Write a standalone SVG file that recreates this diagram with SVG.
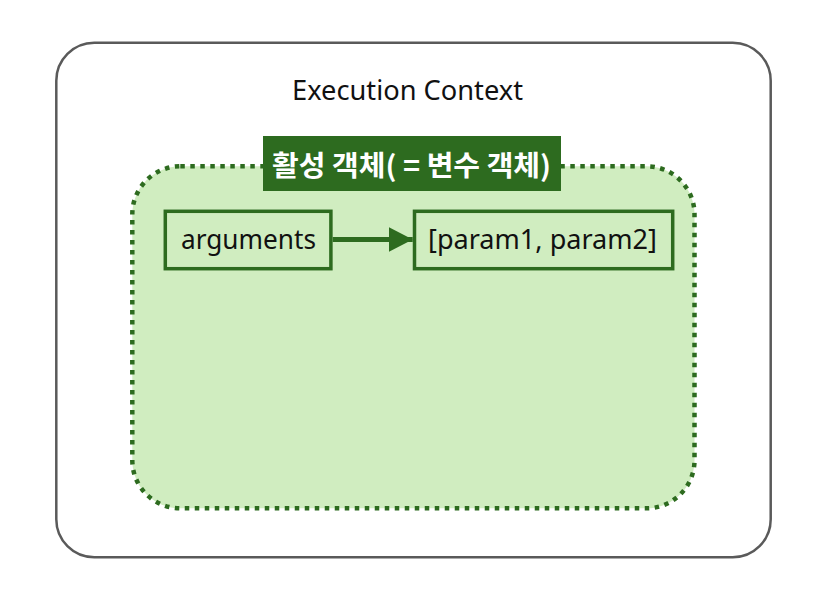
<svg xmlns="http://www.w3.org/2000/svg" width="828" height="590" viewBox="0 0 828 590">
<style>
.lbl{font-family:"Noto Sans","Open Sans","Liberation Sans",sans-serif;fill:#111;}
.box{fill:#d0edc0;stroke:#2d6b1f;stroke-width:3.5;}
.ko{font-family:"Noto Sans CJK KR","Noto Sans",sans-serif;font-weight:bold;fill:#fff;}
</style>
<defs>
<marker id="ah" markerWidth="24" markerHeight="25" refX="24" refY="12.5" orient="auto" markerUnits="userSpaceOnUse">
<path d="M0,0 L24,12.5 L0,25 Z" fill="#2d6b1f"/>
</marker>
</defs>
<rect width="828" height="590" fill="#fff"/>
<g id="execution-context">
<rect x="56.3" y="42.8" width="714.4" height="514.5" rx="38" ry="38" fill="#fff" stroke="#5a5a5a" stroke-width="2.5"/>
<text class="lbl" x="407.5" y="100" font-size="28" text-anchor="middle" textLength="231" lengthAdjust="spacingAndGlyphs">Execution Context</text>
</g>
<g id="activation-object">
<rect x="132.3" y="166.3" width="562.2" height="342" rx="48" ry="48" fill="#d0edc0" stroke="#2d6b1f" stroke-width="4.5" stroke-dasharray="4.5 5.5"/>
<rect x="263" y="136" width="298" height="55" fill="#2d6b1f"/>
<text class="ko" x="411.5" y="176" font-size="28" text-anchor="middle" textLength="279" lengthAdjust="spacingAndGlyphs">활성 객체( = 변수 객체)</text>
</g>
<g id="arguments">
<rect class="box" x="165.3" y="211.3" width="165.6" height="57.4"/>
<text class="lbl" x="248.5" y="249" font-size="26.5" text-anchor="middle" textLength="135" lengthAdjust="spacingAndGlyphs">arguments</text>
</g>
<g id="params">
<rect class="box" x="414.5" y="211.3" width="258.2" height="57.4"/>
<text class="lbl" x="542.5" y="249" font-size="26.5" text-anchor="middle" textLength="229" lengthAdjust="spacingAndGlyphs">[param1, param2]</text>
</g>
<g id="connectors">
<line x1="332.7" y1="239.5" x2="412.7" y2="239.5" stroke="#2d6b1f" stroke-width="5" marker-end="url(#ah)"/>
</g>
</svg>
